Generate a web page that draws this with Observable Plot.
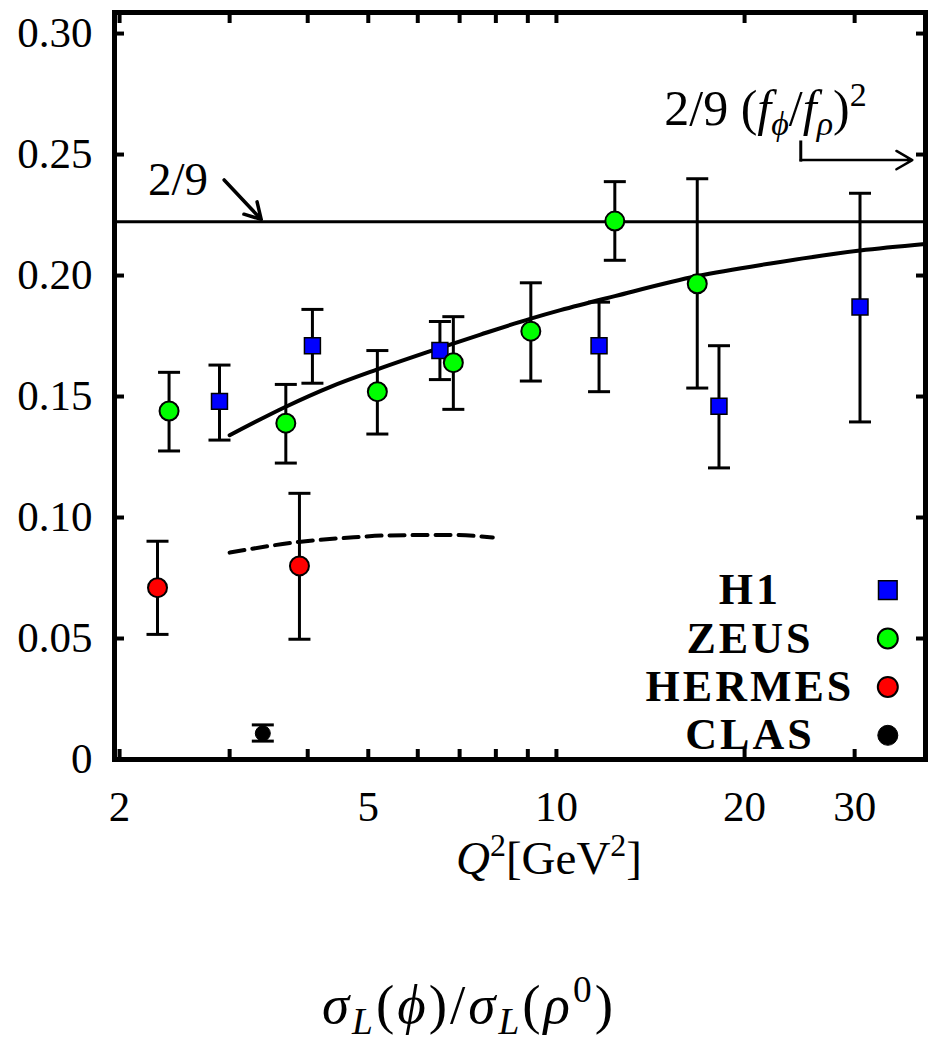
<!DOCTYPE html>
<html>
<head>
<meta charset="utf-8">
<script src="https://cdn.jsdelivr.net/npm/d3@7"></script>
<script src="https://cdn.jsdelivr.net/npm/@observablehq/plot@0.6"></script>
<style>
  body { margin: 0; background: white; }
  #wrap { width: 931px; font-family: 'Liberation Serif', serif; color: black; }
  #xlabel { height: 56px; line-height: 56px; font-size: 47px; text-align: center; padding-left: 167px; box-sizing: border-box; width: 931px; }
  #caption { margin-top: 87px; height: 64px; line-height: 64px; font-size: 55px; letter-spacing: 3px; text-align: center; padding-left: 7px; box-sizing: border-box; width: 931px; }
  sup, sub { font-size: 0.68em; line-height: 0; }
  sup { vertical-align: 0.55em; }
  sub { vertical-align: -0.3em; }
</style>
</head>
<body>
<div id="wrap">
  <div id="chart"></div>
  <div id="xlabel"><i>Q</i><sup>2</sup>[GeV<sup>2</sup>]</div>
  <div id="caption"><i>σ</i><sub><i>L</i></sub>(<i>ϕ</i>)/<i>σ</i><sub><i>L</i></sub>(<i>ρ</i><sup>0</sup>)</div>
</div>
<script>
// ---- data ----
const h1Q2 = [2.89, 4.07, 6.51, 11.7, 18.2, 30.6];
const h1R  = [0.148, 0.171, 0.169, 0.171, 0.146, 0.187];
const h1Lo = [0.132, 0.1555, 0.157, 0.152, 0.1205, 0.1395];
const h1Hi = [0.163, 0.186, 0.181, 0.189, 0.171, 0.234];

const zeusQ2 = [2.40, 3.69, 5.17, 6.84, 9.10, 12.4, 16.8];
const zeusR  = [0.144, 0.139, 0.152, 0.164, 0.177, 0.2225, 0.1966];
const zeusLo = [0.1275, 0.1225, 0.1345, 0.1447, 0.1564, 0.2063, 0.1535];
const zeusHi = [0.160, 0.155, 0.169, 0.183, 0.197, 0.2388, 0.240];

const hermesQ2 = [2.30, 3.88];
const hermesR  = [0.071, 0.080];
const hermesLo = [0.0517, 0.0497];
const hermesHi = [0.0902, 0.110];

const clasQ2 = [3.39];
const clasR  = [0.0108];
const clasLo = [0.0076];
const clasHi = [0.0143];

const ratioLine = 2 / 9;

const theoryQ2 = [3.0, 3.69, 4.35, 5.17, 6.5, 7.56, 9.1, 10.15, 12.4, 16.8, 22, 30.6, 38.9];
const theoryR  = [0.134, 0.1458, 0.154, 0.1612, 0.1700, 0.1756, 0.1822, 0.1857, 0.1915, 0.1998, 0.2050, 0.2103, 0.2130];

const dashQ2 = [3.0, 3.9, 4.74, 5.36, 6.84, 7.91];
const dashR  = [0.0855, 0.090, 0.0918, 0.0926, 0.0928, 0.0917];

const xTicksAll = [2, 3, 4, 5, 6, 7, 8, 9, 10, 20, 30];
const xTickLabels = [2, 5, 10, 20, 30];
const yTicks = [0, 0.05, 0.10, 0.15, 0.20, 0.25, 0.30];

const legendLabels = ["H1", "ZEUS", "HERMES", "CLAS"];

// ---- annotation anchors (data coordinates) ----
const legendY = [0.070, 0.050, 0.030, 0.010];
const legendTextX = 20.4, legendSymX = 33.9;
const ratioLabel = "2/9";
const ratioLabelPos = {x: 2.22, y: 0.2395};
const ratioArrow = {x1: 2.94, y1: 0.2395, x2: 3.37, y2: 0.2232};
const fLabel = "2/9 (fϕ/fρ)2";
const fLabelPos = {x: 21.6, y: 0.269};
const fBracket = {x: 24.6, yTop: 0.2552, y: 0.2477, xEnd: 37.1};

// ---- build tables ----
const build = (q, r, lo, hi) => q.map((d, i) => ({q: d, r: r[i], lo: lo[i], hi: hi[i]}));
const h1 = build(h1Q2, h1R, h1Lo, h1Hi);
const zeus = build(zeusQ2, zeusR, zeusLo, zeusHi);
const hermes = build(hermesQ2, hermesR, hermesLo, hermesHi);
const clas = build(clasQ2, clasR, clasLo, clasHi);
const allBars = [...h1, ...zeus, ...hermes];
const theory = theoryQ2.map((q, i) => ({q, r: theoryR[i]}));
const dashed = dashQ2.map((q, i) => ({q, r: dashR[i]}));
const legend = legendLabels.map((label, i) => ({label, y: legendY[i]}));

const capSymbol = {
  draw(ctx, size) {
    const w = Math.sqrt(size / Math.PI);
    ctx.moveTo(-w, 0);
    ctx.lineTo(w, 0);
  }
};

const fs = 43;
const tickOpts = {tickSize: -10, strokeWidth: 4, fill: "none", label: null};

const plot = Plot.plot({
  width: 931,
  height: 830,
  marginLeft: 114,
  marginRight: 6,
  marginTop: 12,
  marginBottom: 71,
  style: {fontFamily: "'Liberation Serif', serif", fontSize: fs + "px", background: "white", overflow: "visible"},
  x: {type: "log", domain: [1.963, 38.95], axis: null},
  y: {domain: [0, 0.3087], axis: null},
  marks: [
    // theory curves and 2/9 line
    Plot.ruleY([ratioLine], {stroke: "black", strokeWidth: 3}),
    Plot.line(theory, {x: "q", y: "r", stroke: "black", strokeWidth: 4, curve: "monotone-x"}),
    Plot.line(dashed, {x: "q", y: "r", stroke: "black", strokeWidth: 4, curve: "monotone-x", strokeDasharray: "15,8"}),
    // error bars
    Plot.ruleX(allBars, {x: "q", y1: "lo", y2: "hi", stroke: "black", strokeWidth: 3}),
    Plot.dot(allBars, {x: "q", y: "lo", symbol: capSymbol, r: 11, stroke: "black", strokeWidth: 3, fill: "none"}),
    Plot.dot(allBars, {x: "q", y: "hi", symbol: capSymbol, r: 11, stroke: "black", strokeWidth: 3, fill: "none"}),
    Plot.ruleX(clas, {x: "q", y1: "lo", y2: "hi", stroke: "black", strokeWidth: 3}),
    Plot.dot(clas, {x: "q", y: "lo", symbol: capSymbol, r: 11, stroke: "black", strokeWidth: 3, fill: "none"}),
    Plot.dot(clas, {x: "q", y: "hi", symbol: capSymbol, r: 11, stroke: "black", strokeWidth: 3, fill: "none"}),
    // points
    Plot.dot(h1, {x: "q", y: "r", symbol: "square", r: 9, fill: "#0000ff", stroke: "black", strokeWidth: 1.5}),
    Plot.dot(zeus, {x: "q", y: "r", symbol: "circle", r: 9.5, fill: "#00ff00", stroke: "black", strokeWidth: 2}),
    Plot.dot(hermes, {x: "q", y: "r", symbol: "circle", r: 9.5, fill: "#ff0000", stroke: "black", strokeWidth: 2}),
    Plot.dot(clas, {x: "q", y: "r", symbol: "circle", r: 7.5, fill: "black", stroke: "black", strokeWidth: 1}),
    // annotations
    Plot.text([ratioLabel], {x: () => ratioLabelPos.x, y: () => ratioLabelPos.y, text: d => d, textAnchor: "start", fontSize: 47}),
    Plot.arrow([ratioArrow], {x1: "x1", y1: "y1", x2: "x2", y2: "y2", stroke: "black", strokeWidth: 3.5, headLength: 15}),
    Plot.text([fLabel], {x: () => fLabelPos.x, y: () => fLabelPos.y, text: d => d, textAnchor: "middle", fontSize: 50}),
    Plot.link([fBracket], {x1: "x", y1: "yTop", x2: "x", y2: "y", stroke: "black", strokeWidth: 3, strokeLinecap: "square"}),
    Plot.arrow([fBracket], {x1: "x", y1: "y", x2: "xEnd", y2: "y", stroke: "black", strokeWidth: 2.5, headLength: 11}),
    // legend
    Plot.text(legend, {x: () => legendTextX, y: "y", text: "label", textAnchor: "middle", fontSize: 44, fontWeight: "bold"}),
    Plot.dot([legend[0]], {x: () => legendSymX, y: "y", symbol: "square", r: 10.5, fill: "#0000ff", stroke: "black", strokeWidth: 1.5}),
    Plot.dot([legend[1]], {x: () => legendSymX, y: "y", symbol: "circle", r: 10, fill: "#00ff00", stroke: "black", strokeWidth: 2}),
    Plot.dot([legend[2]], {x: () => legendSymX, y: "y", symbol: "circle", r: 10, fill: "#ff0000", stroke: "black", strokeWidth: 2}),
    Plot.dot([legend[3]], {x: () => legendSymX, y: "y", symbol: "circle", r: 10, fill: "black", stroke: "black", strokeWidth: 1}),
    // axes: inward ticks on all sides
    Plot.axisX(xTicksAll, {anchor: "bottom", ...tickOpts}),
    Plot.axisX(xTicksAll, {anchor: "top", ...tickOpts}),
    Plot.axisY(yTicks, {anchor: "left", ...tickOpts}),
    Plot.axisY(yTicks, {anchor: "right", ...tickOpts}),
    Plot.axisX(xTickLabels, {anchor: "bottom", tickSize: 0, tickPadding: 31, fontSize: fs, label: null, tickFormat: d => String(d)}),
    Plot.axisY(yTicks, {anchor: "left", tickSize: 0, tickPadding: 22, fontSize: fs, label: null, tickFormat: d => d === 0 ? "0" : d.toFixed(2)}),
    Plot.frame({stroke: "black", strokeWidth: 5})
  ]
});

// rich text for the (f_phi/f_rho)^2 annotation; wider letter spacing for the bold legend labels
plot.querySelectorAll("text").forEach(t => {
  if (t.textContent === fLabel) {
    t.innerHTML = '2/9 (<tspan font-style="italic">f</tspan>' +
      '<tspan font-style="italic" font-size="34" dy="10">ϕ</tspan>' +
      '<tspan dy="-10">/</tspan><tspan font-style="italic">f</tspan>' +
      '<tspan font-style="italic" font-size="34" dy="10">ρ</tspan>' +
      '<tspan dy="-10">)</tspan><tspan font-size="34" dy="-19">2</tspan>';
  }
  if (legendLabels.includes(t.textContent)) {
    t.style.letterSpacing = "3px";
  }
});

document.getElementById("chart").appendChild(plot);
</script>
</body>
</html>
